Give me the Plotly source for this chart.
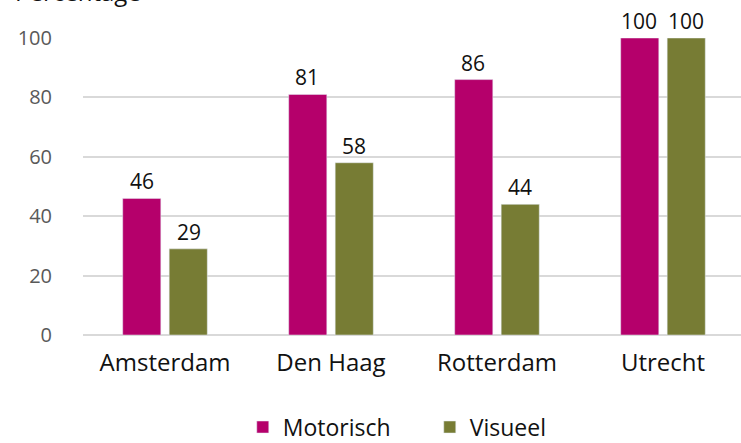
import plotly.graph_objects as go

categories = ["Amsterdam", "Den Haag", "Rotterdam", "Utrecht"]
motorisch = [46, 81, 86, 100]
visueel = [29, 58, 44, 100]
y_ticks = [0, 20, 40, 60, 80, 100]

MAG = "#B5006B"
OLV = "#777C34"
FONT = "Open Sans"

fig = go.Figure()
fig.add_trace(go.Bar(x=categories, y=motorisch, name="Motorisch", marker_color=MAG,
                     hoverinfo="x+y"))
fig.add_trace(go.Bar(x=categories, y=visueel, name="Visueel", marker_color=OLV,
                     hoverinfo="x+y"))

annotations = []
for series, shift in ((motorisch, -23.5), (visueel, 23.5)):
    for cat, val in zip(categories, series):
        annotations.append(dict(x=cat, y=val, xref="x", yref="y", text=str(val),
                                showarrow=False, xshift=shift, yshift=1,
                                xanchor="center", yanchor="bottom",
                                font=dict(size=21, color="#111111", family=FONT)))
annotations.append(dict(text="Percentage", xref="paper", yref="paper", x=-0.106, y=1.094,
                        xanchor="left", yanchor="bottom", showarrow=False,
                        font=dict(size=24, color="#111111", family=FONT)))

fig.update_layout(
    width=741, height=443,
    margin=dict(l=83, r=0, t=38, b=108, autoexpand=False),
    paper_bgcolor="white", plot_bgcolor="white",
    barmode="group", bargap=0.44, bargroupgap=0.18,
    font=dict(family=FONT, color="#111111"),
    showlegend=True,
    legend=dict(orientation="h", x=0.527, xanchor="center", y=-0.31, yanchor="middle",
                font=dict(size=23, color="#111111", family=FONT), itemwidth=30,
                entrywidth=142, entrywidthmode="pixels",
                traceorder="normal"),
    xaxis=dict(range=[-0.494, 3.47], showgrid=False, showline=False, ticks="",
               tickfont=dict(size=24, color="#111111", family=FONT), ticklabelstandoff=11),
    yaxis=dict(range=[0, 100], tickvals=y_ticks, showgrid=True, gridcolor="#D9D9D9",
               gridwidth=2, zeroline=True, zerolinecolor="#D9D9D9", zerolinewidth=2,
               showline=False, ticks="", ticklabelstandoff=30,
               tickfont=dict(size=20, color="#595959", family=FONT)),
    annotations=annotations,
)

fig.write_html("out.html", config={"displayModeBar": False},
               post_script="document.body.style.margin='0';")
